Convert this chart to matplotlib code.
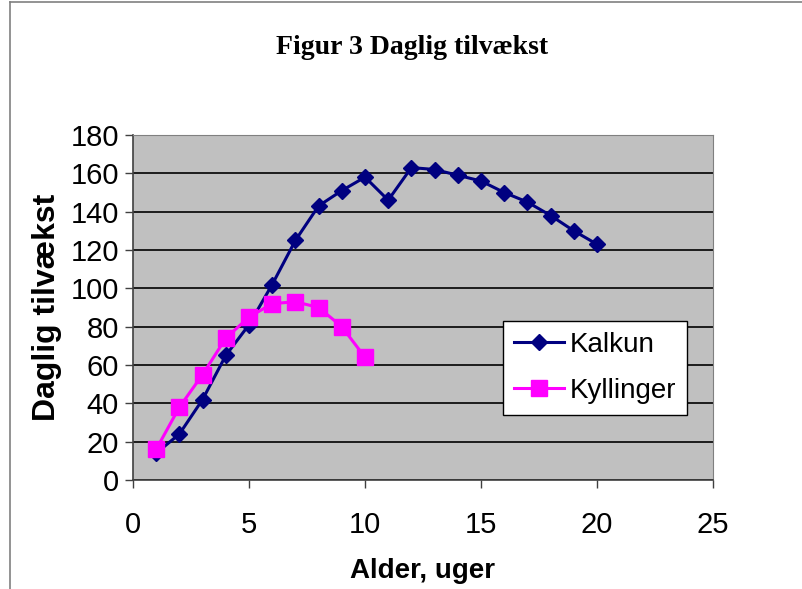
import numpy as np
import matplotlib
matplotlib.use("Agg")
import matplotlib.pyplot as plt
from matplotlib.lines import Line2D

plt.rcParams["font.family"] = ["Liberation Sans", "DejaVu Sans"]

## DATA
uger_kalkun = [1, 2, 3, 4, 5, 6, 7, 8, 9, 10, 11, 12, 13, 14, 15, 16, 17, 18, 19, 20]
kalkun = [14, 24, 42, 65, 81, 102, 125, 143, 151, 158, 146, 163, 162, 159, 156, 150, 145, 138, 130, 123]
uger_kylling = [1, 2, 3, 4, 5, 6, 7, 8, 9, 10]
kyllinger = [16, 38, 55, 74, 85, 92, 93, 90, 80, 64]
x_ticks = [0, 5, 10, 15, 20, 25]
y_ticks = [0, 20, 40, 60, 80, 100, 120, 140, 160, 180]

## THE GRAPH
fig = plt.figure(figsize=(8.02, 5.89), dpi=100)
ax = fig.add_axes([133/802, 109/589, 580/802, 345/589])
ax.set_facecolor("#c0c0c0")

ax.plot(uger_kalkun, kalkun, color="#000080", lw=2.2, marker="D", ms=8,
        label="Kalkun", zorder=3)
ax.plot(uger_kylling, kyllinger, color="#ff00ff", lw=2.2, marker="s", ms=11,
        label="Kyllinger", zorder=3)

ax.set_xlim(0, 25)
ax.set_ylim(0, 180)
ax.set_xticks(x_ticks)
ax.set_yticks(y_ticks)
ax.yaxis.grid(True, color="black", lw=1.2)
ax.set_axisbelow(True)
ax.tick_params(labelsize=21, length=6, width=1, color="#404040", pad=4)
ax.tick_params(axis="x", pad=16)

for s in ["top", "right"]:
    ax.spines[s].set_color("#808080")
for s in ["left", "bottom"]:
    ax.spines[s].set_color("#404040")
    ax.spines[s].set_linewidth(1.2)

ax.set_xlabel("Alder, uger", fontsize=20, fontweight="bold", labelpad=14)
ax.set_ylabel("Daglig tilvækst", fontsize=23, fontweight="bold", labelpad=6)

leg = ax.legend(loc="upper left", bbox_to_anchor=(370/580, 1 - 186/345),
                fontsize=20, frameon=True, fancybox=False, framealpha=1,
                edgecolor="black", handlelength=1.8, borderpad=0.4,
                labelspacing=0.7, handletextpad=0.2, borderaxespad=0)
leg.get_frame().set_linewidth(1)

fig.text(412/802, 1 - 48/589, "Figur 3 Daglig tilvækst", ha="center", va="center",
         fontsize=20, fontweight="bold", family="Liberation Serif")

# chart border (left and top)
fig.add_artist(Line2D([10/802, 10/802], [0, 1 - 2/589], color="#808080", lw=1.2))
fig.add_artist(Line2D([10/802, 1], [1 - 2/589, 1 - 2/589], color="#808080", lw=1.2))

plt.savefig("out.png", dpi=100)
